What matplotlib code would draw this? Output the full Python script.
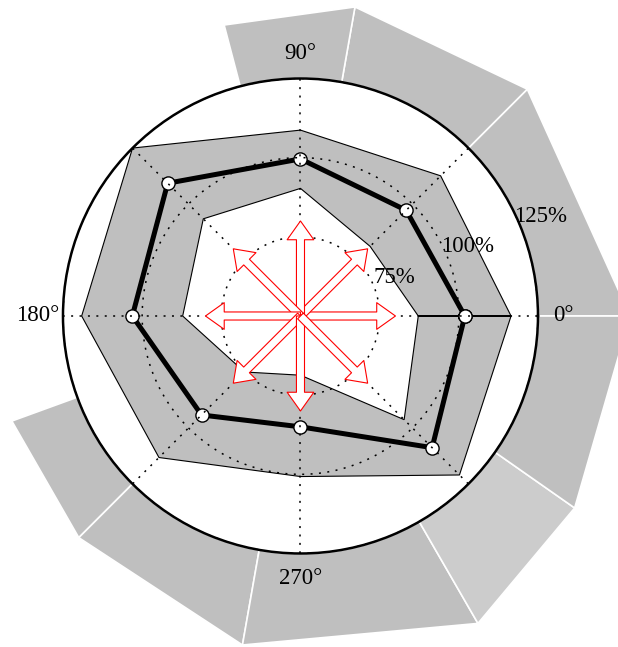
import numpy as np
import matplotlib.pyplot as plt
from matplotlib.patches import FancyArrowPatch

plt.rcParams['font.family'] = ['Liberation Serif', 'DejaVu Serif']

# spokes every 45 degrees, only the quarter ones labelled
angles = [0, 45, 90, 135, 180, 225, 270, 315]
angle_labels = ['0°', '', '90°', '', '180°', '', '270°', '']

# measured profile (%) and its low/high envelope
profile = [101.9, 97.2, 99.6, 109.3, 103.1, 94.2, 85.0, 108.8]
env_low = [87.2, 81.1, 90.3, 93.4, 87.2, 75.0, 68.7, 96.3]
env_high = [116.5, 112.6, 108.7, 125.0, 119.1, 113.2, 100.7, 121.0]

# direction arrows reach this level
arrow_level = 80

# outer ring segments (degrees, outer radius at each end)
seg_start = [0, 45, 80, 200, 225, 260, 300, 325]
seg_end = [45, 80, 104.7, 225, 260, 300, 325, 360]
seg_r_start = [154.1, 151.3, 149.1, 147.0, 149.0, 155.5, 162.1, 155.7]
seg_r_end = [151.3, 149.1, 145.0, 149.0, 155.5, 162.1, 155.7, 154.1]
seg_colors = ['#bfbfbf', '#bfbfbf', '#bfbfbf', '#bfbfbf', '#bfbfbf',
              '#bfbfbf', '#cccccc', '#bfbfbf']

r_ticks = [75, 100, 125]
r_labels = ['75%', '100%', '125%']
r_min, r_max = 50, 125

fig = plt.figure(figsize=(6.18, 6.47), dpi=100)
ax = fig.add_axes([0.1019, 0.1445, 0.7686, 0.7342], projection='polar')

theta = np.deg2rad(angles)
th_closed = np.append(theta, theta[0])

def closed(v):
    return np.append(v, v[0])

# outer ring, drawn outside the axes circle
for s, e, rs, re, c in zip(seg_start, seg_end, seg_r_start, seg_r_end, seg_colors):
    arc = np.linspace(e, s, 80)
    th = np.deg2rad(np.concatenate([[s, e], arc]))
    rr = np.concatenate([[rs, re], np.full(arc.size, r_max)])
    ax.fill(th, rr, facecolor=c, edgecolor='white', lw=1.2,
            clip_on=False, zorder=0.5)

# envelope band: outer polygon then inner polygon backwards
th_band = np.concatenate([th_closed, th_closed[::-1]])
r_band = np.concatenate([closed(env_high), closed(env_low)[::-1]])
ax.fill(th_band, r_band, facecolor='#bfbfbf', edgecolor='black', lw=0.8, zorder=1)

ax.plot(th_closed, closed(profile), color='black', lw=3.6, marker='o', ms=9.5,
        mfc='white', mec='black', mew=1.0, zorder=2)

for a in theta:
    ax.add_patch(FancyArrowPatch((a, r_min), (a, arrow_level),
                                 arrowstyle='simple,head_length=1.35,head_width=1.92,tail_width=0.58',
                                 mutation_scale=10, fc='white', ec='red', lw=0.8,
                                 shrinkA=0, shrinkB=0, zorder=3))

ax.set_thetagrids(angles, angle_labels)
ax.set_rgrids(r_ticks, labels=['', '', ''])
ax.set_ylim(r_min, r_max)
ax.grid(color='black', linestyle=(0, (1.3, 4.2)), lw=1.1)
ax.set_axisbelow(False)
ax.tick_params(axis='x', length=0, pad=11, labelsize=16.5)
ax.tick_params(axis='y', length=0)
ax.spines['polar'].set_linewidth(1.8)

for rt, lab in zip(r_ticks, r_labels):
    ax.text(np.deg2rad(22.5), rt + 7, lab, ha='center', va='center', fontsize=16.5)

fig.savefig('out.png', dpi=100)
